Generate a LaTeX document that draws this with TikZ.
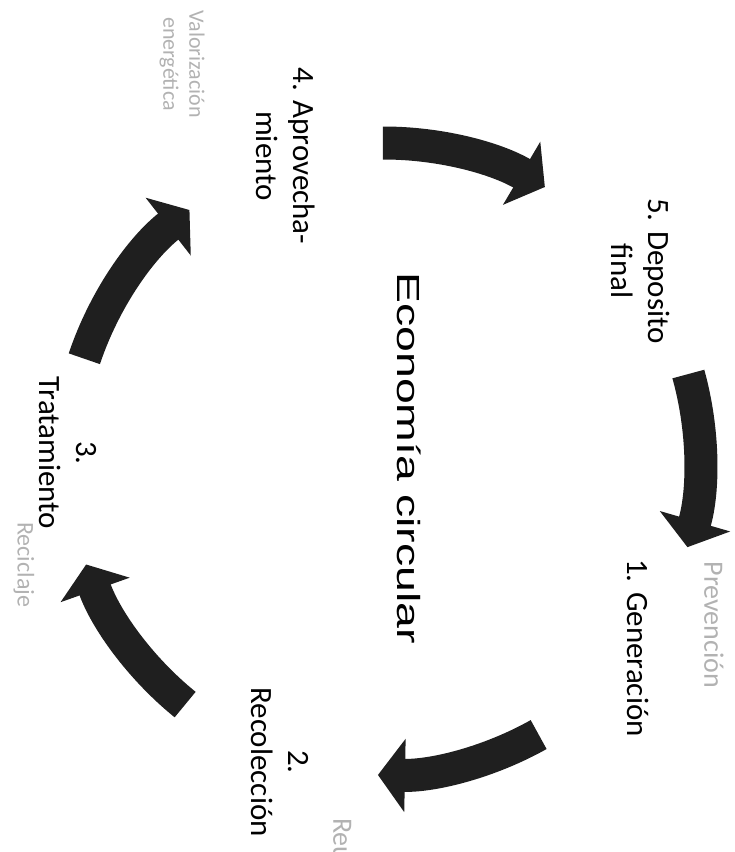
\documentclass[tikz,border=0pt]{standalone}
\usepackage{fontspec}
\setmainfont{Carlito}
\newfontfamily\titlefont[FakeStretch=1.45]{Liberation Sans}
\usetikzlibrary{arrows.meta,calc}

\tikzset{
  lbl/.style={rotate=-90, align=center, inner sep=0pt, font=\fontsize{31}{37}\selectfont},
  note/.style={lbl, text=black!30, font=\fontsize{28}{33}\selectfont},
  cyc/.style={draw=black!88, line width=33pt, -{Triangle[length=27pt,width=72pt]}}
}

\begin{document}
\begin{tikzpicture}[x=1pt,y=-1pt]
    \useasboundingbox (0,0) rectangle (735,852);

    % centre
    \coordinate (cen) at (384,459);
    \node[rotate=-90, inner sep=0pt, font=\titlefont\fontsize{32}{38}\selectfont]
        (eco) at (409,458) {Economía circular};

    % stages
    \node[lbl] (gen) at (638,648) {1. Generación};
    \node[lbl] (rec) at (280,762) {2.\\Recolección};
    \node[lbl] (tra) at (68,453) {3.\\Tratamiento};
    \node[lbl] (apr) at (286,156) {4. Aprovecha-\\miento};
    \node[lbl] (dep) at (641,271) {5. Deposito\\final};

    % side notes
    \node[note] (prev) at (714,625) {Prevención};
    \node[note, anchor=west] (reu) at (343,818) {Reutilización};
    \node[note, anchor=west, font=\fontsize{24}{28}\selectfont] (reci) at (24,522) {Reciclaje};
    \node[note, font=\fontsize{22}{26}\selectfont] (valo) at (182,64) {Valorización\\energética};

    % arrows, tail to tip
    \draw[cyc] ($(cen)+(-90.2:316)$) arc[start angle=-90.2, end angle=-59.4, radius=316];
    \draw[cyc] ($(cen)+(-15.6:316)$) arc[start angle=-15.6, end angle=16.2, radius=316];
    \draw[cyc] ($(cen)+(60.7:316)$) arc[start angle=60.7, end angle=91.1, radius=316];
    \draw[cyc] ($(cen)+(129:316)$) arc[start angle=129, end angle=160.5, radius=316];
    \draw[cyc] ($(cen)+(-161.5:316)$) arc[start angle=-161.5, end angle=-128, radius=316];

\end{tikzpicture}
\end{document}
